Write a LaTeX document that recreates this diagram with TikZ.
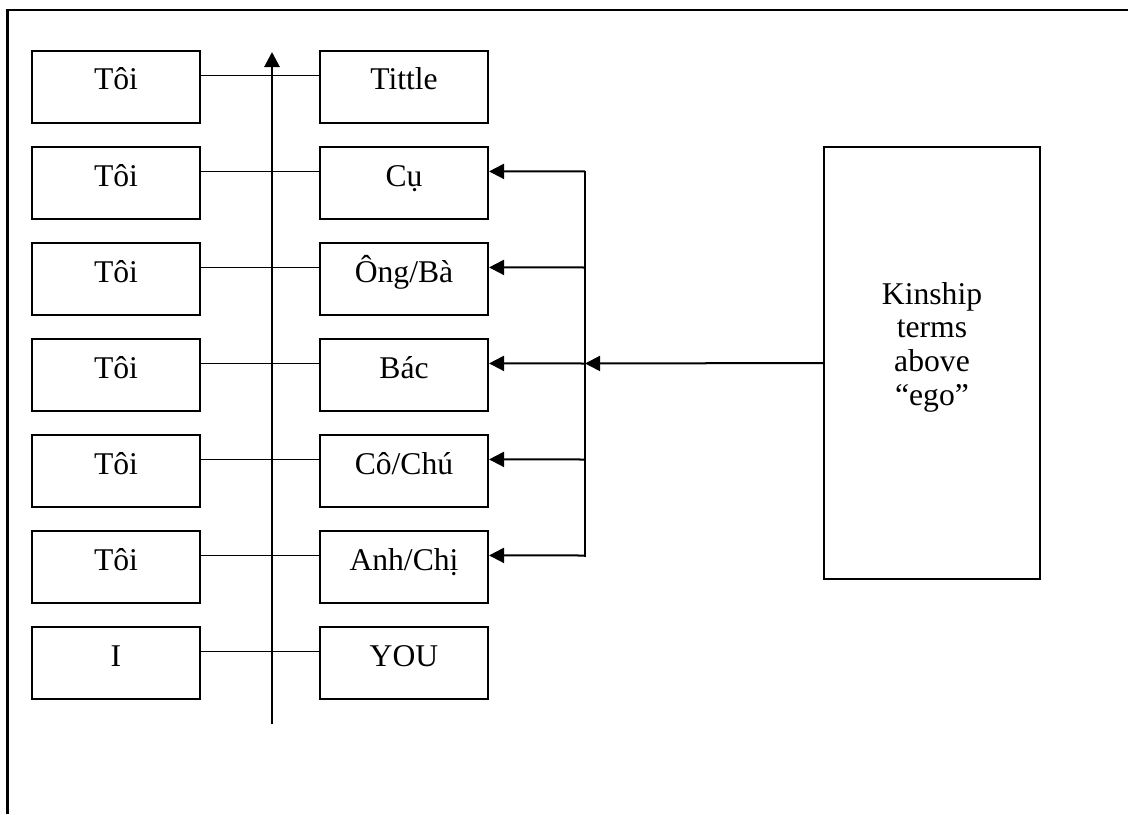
\documentclass[tikz,border=0pt]{standalone}
\usepackage{fontspec}
\setmainfont{Liberation Serif}
\usetikzlibrary{arrows.meta}

\tikzset{
  box/.style={draw, line width=0.05cm, minimum width=4.2cm, minimum height=1.8cm,
    inner sep=0pt, text height=0.5cm, text depth=0.35cm},
  link/.style={line width=0.03cm},
  feed/.style={line width=0.05cm, -{Triangle[length=0.375cm,width=0.375cm]}},
}

\begin{document}
\begin{tikzpicture}[x=0.025cm, y=-0.025cm, font=\fontsize{22.5}{23.9}\selectfont]
        \useasboundingbox (0,0) rectangle (1128,814);
        % Frame
        \draw[line width=0.05cm] (1128,10) -- (7.5,10) -- (7.5,814);
        
        % Speaker column
        \foreach \n/\y in {1/87,2/183,3/279,4/375,5/471,6/567}
          \node[box] (toi\n) at (116,\y) {Tôi};
        \node[box] (i) at (116,663) {I};
        
        % Address terms
        \node[box] (tittle) at (404,87) {Tittle};
        \node[box] (cu) at (404,183) {Cụ};
        \node[box] (ongba) at (404,279) {Ông/Bà};
        \node[box] (bac) at (404,375) {Bác};
        \node[box] (cochu) at (404,471) {Cô/Chú};
        \node[box] (anhchi) at (404,567) {Anh/Chị};
        \node[box] (you) at (404,663) {YOU};
        
        % Kinship box
        \node[draw, line width=0.05cm, minimum width=5.4cm, minimum height=10.8cm,
          align=center, inner sep=0pt, text height=3.25cm, text depth=1.15cm]
          (kin) at (932,363) {Kinship\\terms\\above\\“ego”};
        
        % Vertical axis
        \coordinate (axbot) at (272,724);
        \coordinate (axtop) at (272,52);
        \draw[line width=0.07cm, -{Triangle[length=0.375cm,width=0.375cm]}] (axbot) -- (axtop);
        
        % Pairs
        \foreach \a/\b in {toi1/tittle,toi2/cu,toi3/ongba,toi4/bac,toi5/cochu,toi6/anhchi,i/you}
          \draw[link] ([yshift=0.29cm]\a.east) -- ([yshift=0.29cm]\b.west);
        
        % Arrows from the kinship box
        \draw[line width=0.05cm, line cap=rect] ([shift={(96,-11.5)}]cu.east) -- ([shift={(96,-11.5)}]anhchi.east);
        \foreach \n in {cu,ongba,bac,cochu,anhchi}
          \draw[feed] ([shift={(96,-11.5)}]\n.east) -- ([yshift=0.29cm]\n.east);
        \draw[feed] (kin.west) -- ([shift={(96,-11.5)}]bac.east);
    \end{tikzpicture}
\end{document}
